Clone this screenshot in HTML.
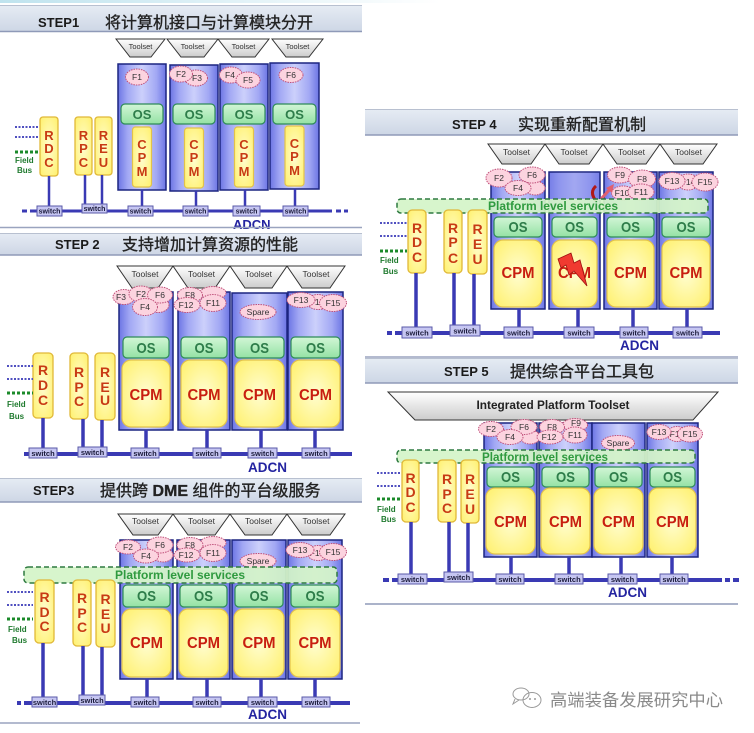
<!DOCTYPE html>
<html><head><meta charset="utf-8"><style>
html,body{margin:0;padding:0;background:#fff;}
svg{display:block;}
text{font-family:"Liberation Sans","Noto Sans CJK SC",sans-serif;}
.st{font-weight:bold;font-size:13px;fill:#1a1a1a;}
.cn{font-size:16px;fill:#222;stroke:#222;stroke-width:0.35;}
.tl{font-size:8.5px;fill:#333;text-anchor:middle;}
.tl1{font-size:7.5px;fill:#333;text-anchor:middle;}
.bt{font-size:8.5px;fill:#333;text-anchor:middle;}
.os{font-weight:bold;font-size:15px;fill:#2e7d4a;text-anchor:middle;}
.os1{font-weight:bold;font-size:13px;fill:#2e7d4a;text-anchor:middle;}
.cpm{font-weight:bold;font-size:16px;fill:#c81e10;text-anchor:middle;}
.lt{font-weight:bold;font-size:14px;fill:#c83a14;text-anchor:middle;}
.lt1{font-weight:bold;font-size:13px;fill:#c83a14;text-anchor:middle;}
.sw{font-size:7.5px;fill:#1a1a3a;text-anchor:middle;font-weight:bold;}
.ad{font-weight:bold;font-size:13.5px;fill:#2424a0;}
.fd{font-weight:bold;font-size:8px;fill:#1f7a2e;}
.pl{font-weight:bold;font-size:12px;fill:#2f9a3f;}
.col{fill:url(#colg);stroke:#1c2580;stroke-width:1.5;}
.osb{fill:url(#osg);stroke:#2e8b57;stroke-width:1.2;}
.cpb{fill:url(#cpg);stroke:#e2c24a;stroke-width:1.2;}
.rb{fill:url(#cpg);stroke:#e0b838;stroke-width:1.3;}
.tb{fill:url(#tg);stroke:#333;stroke-width:1;}
.bb{fill:#fcd3df;stroke:#c0507a;stroke-width:1;stroke-dasharray:1.5 1;}
.swb{fill:#c6c6f2;stroke:#5a5aa8;stroke-width:1;}
.vl{stroke:#3a3ab4;stroke-width:3.5;}
.vl1{stroke:#3a3ab4;stroke-width:2.5;}
.bus{stroke:#3a3ab4;stroke-width:4;}
.dot{stroke:#5050c0;stroke-width:2;stroke-dasharray:2 1.5;}
.gd{stroke:#1b8a2a;stroke-width:3;stroke-dasharray:3 2;}
.plb{fill:#d4f4c8;fill-opacity:0.92;stroke:#2e7a40;stroke-width:1.5;stroke-dasharray:5 3;}
.hdr{fill:url(#hg);}
.hl{stroke:#8f9ab8;stroke-width:1.5;}
.ht{stroke:#b8c0d0;stroke-width:1;}
</style></head><body>
<svg width="754" height="733" viewBox="0 0 754 733" xmlns="http://www.w3.org/2000/svg">
<defs>
<linearGradient id="hg" x1="0" y1="0" x2="0" y2="1"><stop offset="0" stop-color="#e6ecf4"/><stop offset="1" stop-color="#cdd6e5"/></linearGradient>
<linearGradient id="colg" x1="0" y1="0" x2="1" y2="0"><stop offset="0" stop-color="#6c75e4"/><stop offset="0.2" stop-color="#a2a8f4"/><stop offset="0.5" stop-color="#ccd0fb"/><stop offset="0.8" stop-color="#a2a8f4"/><stop offset="1" stop-color="#6c75e4"/></linearGradient>
<linearGradient id="osg" x1="0" y1="0" x2="0" y2="1"><stop offset="0" stop-color="#d2f6d6"/><stop offset="1" stop-color="#94e2a4"/></linearGradient>
<radialGradient id="cpg" cx="0.5" cy="0.5" r="0.7"><stop offset="0" stop-color="#fffdd0"/><stop offset="1" stop-color="#fff06a"/></radialGradient>
<linearGradient id="tg" x1="0" y1="0" x2="0" y2="1"><stop offset="0" stop-color="#ffffff"/><stop offset="1" stop-color="#cccccc"/></linearGradient>
<linearGradient id="topg" x1="0" y1="0" x2="1" y2="0"><stop offset="0" stop-color="#bfe3ee"/><stop offset="1" stop-color="#ffffff"/></linearGradient>
</defs>

<rect x="0" y="0" width="440" height="3" fill="url(#topg)"/>

<!-- ================= STEP 1 ================= -->
<rect class="hdr" x="0" y="5" width="362" height="27"/>
<line class="ht" x1="0" y1="5.5" x2="362" y2="5.5"/>
<line class="hl" x1="0" y1="31.5" x2="362" y2="31.5"/>
<text class="st" x="38" y="27">STEP1</text>
<text class="cn" x="105" y="28">将计算机接口与计算模块分开</text>

<polygon class="tb" points="116,39 165,39 151,57 130,57"/><text class="tl1" x="140.5" y="49">Toolset</text>
<polygon class="tb" points="167,39 218,39 204,57 181,57"/><text class="tl1" x="192.5" y="49">Toolset</text>
<polygon class="tb" points="218,39 269,39 255,57 232,57"/><text class="tl1" x="243.5" y="49">Toolset</text>
<polygon class="tb" points="272,39 323,39 309,57 286,57"/><text class="tl1" x="297.5" y="49">Toolset</text>

<rect class="col" x="118" y="64" width="48" height="126"/>
<rect class="col" x="170" y="65" width="48" height="126"/>
<rect class="col" x="220" y="64" width="48" height="126"/>
<rect class="col" x="270" y="63" width="49" height="126"/>

<ellipse class="bb" cx="137" cy="77" rx="11.5" ry="8"/><text class="bt" x="137" y="80">F1</text>
<ellipse class="bb" cx="196" cy="78" rx="11.5" ry="8"/><text class="bt" x="197" y="81">F3</text>
<ellipse class="bb" cx="181" cy="74" rx="11.5" ry="8"/><text class="bt" x="181" y="77">F2</text>
<ellipse class="bb" cx="231" cy="75" rx="11.5" ry="8"/><text class="bt" x="230" y="78">F4</text>
<ellipse class="bb" cx="248" cy="80" rx="12" ry="8"/><text class="bt" x="248" y="83">F5</text>
<ellipse class="bb" cx="291" cy="75" rx="12" ry="7.5"/><text class="bt" x="291" y="78">F6</text>

<rect class="osb" x="121" y="104" width="42" height="20" rx="4"/><text class="os1" x="142" y="119">OS</text>
<rect class="osb" x="173" y="104" width="42" height="20" rx="4"/><text class="os1" x="194" y="119">OS</text>
<rect class="osb" x="223" y="104" width="42" height="20" rx="4"/><text class="os1" x="244" y="119">OS</text>
<rect class="osb" x="273" y="104" width="43" height="20" rx="4"/><text class="os1" x="294.5" y="119">OS</text>

<rect class="cpb" x="132.5" y="127" width="19" height="60" rx="3"/>
<text class="lt1" x="142" y="149">C</text><text class="lt1" x="142" y="162">P</text><text class="lt1" x="142" y="176">M</text>
<rect class="cpb" x="184.5" y="128" width="19" height="60" rx="3"/>
<text class="lt1" x="194" y="149">C</text><text class="lt1" x="194" y="162">P</text><text class="lt1" x="194" y="176">M</text>
<rect class="cpb" x="234.5" y="127" width="19" height="60" rx="3"/>
<text class="lt1" x="244" y="149">C</text><text class="lt1" x="244" y="162">P</text><text class="lt1" x="244" y="176">M</text>
<rect class="cpb" x="285" y="126" width="19" height="60" rx="3"/>
<text class="lt1" x="294.5" y="148">C</text><text class="lt1" x="294.5" y="161">P</text><text class="lt1" x="294.5" y="175">M</text>

<rect class="rb" x="40" y="117" width="18" height="59" rx="3"/>
<text class="lt1" x="49" y="140">R</text><text class="lt1" x="49" y="153">D</text><text class="lt1" x="49" y="167">C</text>
<rect class="rb" x="75" y="117" width="17" height="58" rx="3"/>
<text class="lt1" x="83.5" y="140">R</text><text class="lt1" x="83.5" y="153">P</text><text class="lt1" x="83.5" y="167">C</text>
<rect class="rb" x="95" y="117" width="17" height="58" rx="3"/>
<text class="lt1" x="103.5" y="140">R</text><text class="lt1" x="103.5" y="153">E</text><text class="lt1" x="103.5" y="167">U</text>

<line class="vl1" x1="49" y1="176" x2="49" y2="210"/>
<line class="vl1" x1="85" y1="175" x2="85" y2="209"/>
<line class="vl1" x1="102" y1="175" x2="102" y2="209"/>
<line class="vl1" x1="142" y1="190" x2="142" y2="210"/>
<line class="vl1" x1="196" y1="191" x2="196" y2="210"/>
<line class="vl1" x1="245" y1="190" x2="245" y2="210"/>
<line class="vl1" x1="295" y1="189" x2="295" y2="210"/>
<line class="bus" style="stroke-width:3" x1="30" y1="211" x2="332" y2="211"/>
<line class="bus" style="stroke-width:3" x1="22" y1="211" x2="27" y2="211"/>
<line class="bus" style="stroke-width:3" x1="336" y1="211" x2="341" y2="211"/>
<line class="bus" style="stroke-width:3" x1="344" y1="211" x2="348" y2="211"/>

<rect class="swb" x="37" y="206" width="25" height="10"/><text class="sw" style="font-size:7px" x="49.5" y="213.5">switch</text>
<rect class="swb" x="82" y="204" width="25" height="9"/><text class="sw" style="font-size:7px" x="94.5" y="211">switch</text>
<rect class="swb" x="128" y="206" width="25" height="10"/><text class="sw" style="font-size:7px" x="140.5" y="213.5">switch</text>
<rect class="swb" x="183" y="206" width="25" height="10"/><text class="sw" style="font-size:7px" x="195.5" y="213.5">switch</text>
<rect class="swb" x="233" y="206" width="27" height="10"/><text class="sw" style="font-size:7px" x="246.5" y="213.5">switch</text>
<rect class="swb" x="283" y="206" width="25" height="10"/><text class="sw" style="font-size:7px" x="295.5" y="213.5">switch</text>
<text class="ad" style="font-size:13px" x="233" y="229">ADCN</text>

<line class="dot" x1="15" y1="127" x2="38" y2="127"/>
<line class="dot" x1="15" y1="137" x2="38" y2="137"/>
<line class="gd" x1="15" y1="152" x2="38" y2="152"/>
<text class="fd" x="15" y="163">Field</text>
<text class="fd" x="17" y="173">Bus</text>
<line stroke="#9aa4bf" stroke-width="1.5" x1="0" y1="227.5" x2="362" y2="227.5"/>

<!-- ================= STEP 2 ================= -->
<rect class="hdr" x="0" y="233" width="362" height="22"/>
<line class="ht" x1="0" y1="233.5" x2="362" y2="233.5"/>
<line class="hl" x1="0" y1="255" x2="362" y2="255"/>
<text class="st" x="55" y="249">STEP 2</text>
<text class="cn" x="122" y="250">支持增加计算资源的性能</text>

<polygon class="tb" points="117,266 173,266 158,288 132,288"/><text class="tl" x="145" y="277">Toolset</text>
<polygon class="tb" points="173,266 230,266 215,288 188,288"/><text class="tl" x="201.5" y="277">Toolset</text>
<polygon class="tb" points="230,266 287,266 272,288 245,288"/><text class="tl" x="258.5" y="277">Toolset</text>
<polygon class="tb" points="287,266 345,266 330,288 302,288"/><text class="tl" x="316" y="277">Toolset</text>

<rect class="col" x="119" y="292" width="54" height="138"/>
<rect class="col" x="178" y="292" width="52" height="138"/>
<rect class="col" x="232" y="293" width="55" height="137"/>
<rect class="col" x="288" y="292" width="55" height="138"/>

<ellipse class="bb" cx="124" cy="297" rx="11" ry="7.5"/><text class="bt" x="121" y="300">F3</text>
<ellipse class="bb" cx="158" cy="305" rx="11" ry="7.5"/>
<ellipse class="bb" cx="141" cy="294" rx="12" ry="8"/><text class="bt" x="141" y="297">F2</text>
<ellipse class="bb" cx="160" cy="295" rx="12.5" ry="8"/><text class="bt" x="160" y="298">F6</text>
<ellipse class="bb" cx="145" cy="307" rx="12.5" ry="8.5"/><text class="bt" x="145" y="310">F4</text>
<ellipse class="bb" cx="213" cy="293" rx="13" ry="6.5"/>
<ellipse class="bb" cx="190" cy="295" rx="12.5" ry="7.5"/><text class="bt" x="190" y="298">F8</text>
<ellipse class="bb" cx="187" cy="305" rx="13" ry="7.5"/><text class="bt" x="186" y="308">F12</text>
<ellipse class="bb" cx="213" cy="303" rx="13" ry="8.5"/><text class="bt" x="213" y="306">F11</text>
<ellipse class="bb" cx="258" cy="312" rx="18" ry="7.5"/><text class="bt" x="258" y="315">Spare</text>
<ellipse class="bb" cx="318" cy="302" rx="11" ry="7.5"/><text class="bt" x="317" y="305">F14</text>
<ellipse class="bb" cx="301" cy="300" rx="14" ry="7.5"/><text class="bt" x="301" y="303">F13</text>
<ellipse class="bb" cx="333" cy="303" rx="13.5" ry="8.5"/><text class="bt" x="333" y="306">F15</text>

<rect class="osb" x="123" y="337" width="46" height="21" rx="4"/><text class="os" x="146" y="353" textLength="19" lengthAdjust="spacingAndGlyphs">OS</text>
<rect class="osb" x="181" y="337" width="46" height="21" rx="4"/><text class="os" x="204" y="353" textLength="19" lengthAdjust="spacingAndGlyphs">OS</text>
<rect class="osb" x="235" y="337" width="49" height="21" rx="4"/><text class="os" x="259.5" y="353" textLength="19" lengthAdjust="spacingAndGlyphs">OS</text>
<rect class="osb" x="291" y="337" width="49" height="21" rx="4"/><text class="os" x="315.5" y="353" textLength="19" lengthAdjust="spacingAndGlyphs">OS</text>

<rect class="cpb" x="122" y="360" width="48" height="67" rx="9"/><text class="cpm" x="146" y="400" textLength="33" lengthAdjust="spacingAndGlyphs">CPM</text>
<rect class="cpb" x="181" y="360" width="46" height="67" rx="9"/><text class="cpm" x="204" y="400" textLength="33" lengthAdjust="spacingAndGlyphs">CPM</text>
<rect class="cpb" x="235" y="360" width="49" height="67" rx="9"/><text class="cpm" x="259.5" y="400" textLength="33" lengthAdjust="spacingAndGlyphs">CPM</text>
<rect class="cpb" x="291" y="360" width="49" height="67" rx="9"/><text class="cpm" x="315.5" y="400" textLength="33" lengthAdjust="spacingAndGlyphs">CPM</text>

<rect class="rb" x="33" y="353" width="20" height="65" rx="4"/>
<text class="lt" x="43" y="375">R</text><text class="lt" x="43" y="390">D</text><text class="lt" x="43" y="405">C</text>
<rect class="rb" x="70" y="353" width="18" height="66" rx="4"/>
<text class="lt" x="79" y="377">R</text><text class="lt" x="79" y="392">P</text><text class="lt" x="79" y="406">C</text>
<rect class="rb" x="95" y="353" width="20" height="67" rx="4"/>
<text class="lt" x="105" y="377">R</text><text class="lt" x="105" y="392">E</text><text class="lt" x="105" y="405">U</text>

<line class="vl" x1="43" y1="418" x2="43" y2="452"/>
<line class="vl" x1="83" y1="419" x2="83" y2="450"/>
<line class="vl" x1="102" y1="420" x2="102" y2="450"/>
<line class="vl" x1="146" y1="430" x2="146" y2="452"/>
<line class="vl" x1="207" y1="430" x2="207" y2="452"/>
<line class="vl" x1="261" y1="430" x2="261" y2="452"/>
<line class="vl" x1="315" y1="430" x2="315" y2="452"/>
<line class="bus" x1="24" y1="454" x2="352" y2="454"/>

<rect class="swb" x="29" y="448" width="28" height="10"/><text class="sw" x="43" y="456">switch</text>
<rect class="swb" x="78" y="447" width="29" height="10"/><text class="sw" x="92.5" y="455">switch</text>
<rect class="swb" x="131" y="448" width="28" height="10"/><text class="sw" x="145" y="456">switch</text>
<rect class="swb" x="193" y="448" width="28" height="10"/><text class="sw" x="207" y="456">switch</text>
<rect class="swb" x="248" y="448" width="29" height="10"/><text class="sw" x="262.5" y="456">switch</text>
<rect class="swb" x="302" y="448" width="28" height="10"/><text class="sw" x="316" y="456">switch</text>
<text class="ad" x="248" y="472">ADCN</text>

<line class="dot" x1="7" y1="366" x2="33" y2="366"/>
<line class="dot" x1="7" y1="379" x2="33" y2="379"/>
<line class="gd" x1="7" y1="393" x2="33" y2="393"/>
<text class="fd" x="7" y="407">Field</text>
<text class="fd" x="9" y="419">Bus</text>

<!-- ================= STEP 3 ================= -->
<rect class="hdr" x="0" y="478" width="362" height="24"/>
<line class="ht" x1="0" y1="478.5" x2="362" y2="478.5"/>
<line class="hl" x1="0" y1="502" x2="362" y2="502"/>
<text class="st" x="33" y="495">STEP3</text>
<text class="cn" x="100" y="496">提供跨 <tspan font-weight="bold">DME</tspan> 组件的平台级服务</text>

<polygon class="tb" points="118,514 173,514 158,535 133,535"/><text class="tl" x="145.5" y="524">Toolset</text>
<polygon class="tb" points="173,514 230,514 215,535 188,535"/><text class="tl" x="201.5" y="524">Toolset</text>
<polygon class="tb" points="230,514 287,514 272,535 245,535"/><text class="tl" x="258.5" y="524">Toolset</text>
<polygon class="tb" points="287,514 345,514 330,535 302,535"/><text class="tl" x="316" y="524">Toolset</text>

<rect class="col" x="120" y="540" width="53" height="139"/>
<rect class="col" x="177" y="540" width="53" height="139"/>
<rect class="col" x="232" y="540" width="54" height="139"/>
<rect class="col" x="288" y="540" width="54" height="139"/>

<ellipse class="bb" cx="163" cy="555" rx="10" ry="7"/>
<ellipse class="bb" cx="128" cy="547" rx="12.5" ry="7"/><text class="bt" x="128" y="550">F2</text>
<ellipse class="bb" cx="160" cy="545" rx="13" ry="8"/><text class="bt" x="160" y="548">F6</text>
<ellipse class="bb" cx="146" cy="556" rx="12.5" ry="7"/><text class="bt" x="146" y="559">F4</text>
<ellipse class="bb" cx="213" cy="543" rx="13" ry="6.5"/>
<ellipse class="bb" cx="190" cy="545" rx="13" ry="7.5"/><text class="bt" x="190" y="548">F8</text>
<ellipse class="bb" cx="187" cy="555" rx="13" ry="7"/><text class="bt" x="186" y="558">F12</text>
<ellipse class="bb" cx="213" cy="553" rx="13" ry="8.5"/><text class="bt" x="213" y="556">F11</text>
<ellipse class="bb" cx="258" cy="561" rx="18" ry="7.5"/><text class="bt" x="258" y="564">Spare</text>
<ellipse class="bb" cx="318" cy="553" rx="11" ry="7.5"/><text class="bt" x="317" y="556">F14</text>
<ellipse class="bb" cx="300" cy="550" rx="14" ry="7.5"/><text class="bt" x="300" y="553">F13</text>
<ellipse class="bb" cx="333" cy="552" rx="13.5" ry="8.5"/><text class="bt" x="333" y="555">F15</text>

<rect class="plb" x="24" y="567" width="313" height="16" rx="4"/>
<text class="pl" x="115" y="579" textLength="130" lengthAdjust="spacingAndGlyphs">Platform level services</text>

<rect class="osb" x="123" y="585" width="47" height="22" rx="4"/><text class="os" x="146.5" y="601" textLength="19" lengthAdjust="spacingAndGlyphs">OS</text>
<rect class="osb" x="180" y="585" width="47" height="22" rx="4"/><text class="os" x="203.5" y="601" textLength="19" lengthAdjust="spacingAndGlyphs">OS</text>
<rect class="osb" x="235" y="585" width="48" height="22" rx="4"/><text class="os" x="259" y="601" textLength="19" lengthAdjust="spacingAndGlyphs">OS</text>
<rect class="osb" x="291" y="585" width="48" height="22" rx="4"/><text class="os" x="315" y="601" textLength="19" lengthAdjust="spacingAndGlyphs">OS</text>

<rect class="cpb" x="122" y="609" width="49" height="68" rx="9"/><text class="cpm" x="146.5" y="648" textLength="33" lengthAdjust="spacingAndGlyphs">CPM</text>
<rect class="cpb" x="179" y="609" width="49" height="68" rx="9"/><text class="cpm" x="203.5" y="648" textLength="33" lengthAdjust="spacingAndGlyphs">CPM</text>
<rect class="cpb" x="234" y="609" width="50" height="68" rx="9"/><text class="cpm" x="259" y="648" textLength="33" lengthAdjust="spacingAndGlyphs">CPM</text>
<rect class="cpb" x="290" y="609" width="50" height="68" rx="9"/><text class="cpm" x="315" y="648" textLength="33" lengthAdjust="spacingAndGlyphs">CPM</text>

<rect class="rb" x="35" y="580" width="19" height="63" rx="4"/>
<text class="lt" x="44.5" y="602">R</text><text class="lt" x="44.5" y="617">D</text><text class="lt" x="44.5" y="631">C</text>
<rect class="rb" x="73" y="580" width="18" height="66" rx="4"/>
<text class="lt" x="82" y="603">R</text><text class="lt" x="82" y="618">P</text><text class="lt" x="82" y="632">C</text>
<rect class="rb" x="96" y="580" width="19" height="67" rx="4"/>
<text class="lt" x="105.5" y="604">R</text><text class="lt" x="105.5" y="619">E</text><text class="lt" x="105.5" y="633">U</text>

<line class="vl" x1="43" y1="643" x2="43" y2="700"/>
<line class="vl" x1="83" y1="646" x2="83" y2="698"/>
<line class="vl" x1="102" y1="647" x2="102" y2="698"/>
<line class="vl" x1="147" y1="679" x2="147" y2="700"/>
<line class="vl" x1="207" y1="679" x2="207" y2="700"/>
<line class="vl" x1="261" y1="679" x2="261" y2="700"/>
<line class="vl" x1="315" y1="679" x2="315" y2="700"/>
<line class="bus" x1="24" y1="703" x2="350" y2="703"/>
<line class="bus" x1="17" y1="703" x2="21" y2="703"/>

<rect class="swb" x="32" y="697" width="25" height="10"/><text class="sw" x="44.5" y="705">switch</text>
<rect class="swb" x="79" y="695" width="26" height="10"/><text class="sw" x="92" y="703">switch</text>
<rect class="swb" x="131" y="697" width="28" height="10"/><text class="sw" x="145" y="705">switch</text>
<rect class="swb" x="193" y="697" width="28" height="10"/><text class="sw" x="207" y="705">switch</text>
<rect class="swb" x="248" y="697" width="29" height="10"/><text class="sw" x="262.5" y="705">switch</text>
<rect class="swb" x="302" y="697" width="28" height="10"/><text class="sw" x="316" y="705">switch</text>
<text class="ad" x="248" y="719">ADCN</text>

<line class="dot" x1="7" y1="592" x2="33" y2="592"/>
<line class="dot" x1="7" y1="605" x2="33" y2="605"/>
<line class="gd" x1="7" y1="619" x2="33" y2="619"/>
<text class="fd" x="8" y="632">Field</text>
<text class="fd" x="12" y="643">Bus</text>
<line stroke="#9aa4bf" stroke-width="1.5" x1="0" y1="723" x2="360" y2="723"/>

<!-- ================= STEP 4 ================= -->
<rect class="hdr" x="365" y="109" width="373" height="26"/>
<line class="ht" x1="365" y1="109.5" x2="738" y2="109.5"/>
<line class="hl" x1="365" y1="135" x2="738" y2="135"/>
<text class="st" x="452" y="129">STEP 4</text>
<text class="cn" x="518" y="130">实现重新配置机制</text>

<polygon class="tb" points="488,144 545,144 531,164 502,164"/><text class="tl" x="516.5" y="155">Toolset</text>
<polygon class="tb" points="545,144 603,144 589,164 559,164"/><text class="tl" x="574" y="155">Toolset</text>
<polygon class="tb" points="603,144 660,144 646,164 617,164"/><text class="tl" x="631.5" y="155">Toolset</text>
<polygon class="tb" points="660,144 717,144 703,164 674,164"/><text class="tl" x="688.5" y="155">Toolset</text>

<rect class="col" x="491" y="172" width="54" height="137"/>
<rect class="col" x="549" y="172" width="51" height="137"/>
<rect x="550" y="173" width="49" height="26" fill="#7f87ea" opacity="0.55"/>
<rect class="col" x="604" y="172" width="53" height="137"/>
<rect class="col" x="659" y="172" width="54" height="137"/>

<ellipse class="bb" cx="535" cy="188" rx="10" ry="7"/>
<ellipse class="bb" cx="499" cy="178" rx="13" ry="9"/><text class="bt" x="499" y="181">F2</text>
<ellipse class="bb" cx="532" cy="175" rx="13" ry="8"/><text class="bt" x="532" y="178">F6</text>
<ellipse class="bb" cx="518" cy="188" rx="13" ry="7.5"/><text class="bt" x="518" y="191">F4</text>
<ellipse class="bb" cx="620" cy="175" rx="12.5" ry="8"/><text class="bt" x="620" y="178">F9</text>
<ellipse class="bb" cx="623" cy="193" rx="11.5" ry="7"/><text class="bt" x="622" y="196">F10</text>
<ellipse class="bb" cx="642" cy="179" rx="13.5" ry="9"/><text class="bt" x="642" y="182">F8</text>
<ellipse class="bb" cx="641" cy="192" rx="13" ry="8"/><text class="bt" x="641" y="195">F11</text>
<ellipse class="bb" cx="688" cy="182" rx="11" ry="8"/><text class="bt" x="688" y="185">F14</text>
<ellipse class="bb" cx="672" cy="181" rx="13" ry="8.5"/><text class="bt" x="672" y="184">F13</text>
<ellipse class="bb" cx="705" cy="182" rx="13" ry="9"/><text class="bt" x="705" y="185">F15</text>

<!-- reconfiguration arrow -->
<path d="M596,201 Q589,192 596,186" fill="none" stroke="#b01818" stroke-width="3"/>
<path d="M601,199 L611,188" stroke="#e06070" stroke-width="3" fill="none"/>
<polygon points="614,184 612,193 606,188" fill="#e06070"/>

<rect class="plb" x="397" y="199" width="311" height="14" rx="4"/>
<text class="pl" x="488" y="210" textLength="130" lengthAdjust="spacingAndGlyphs">Platform level services</text>

<rect class="osb" x="494" y="217" width="48" height="20" rx="4"/><text class="os" x="518" y="232" textLength="19" lengthAdjust="spacingAndGlyphs">OS</text>
<rect class="osb" x="552" y="217" width="45" height="20" rx="4"/><text class="os" x="574.5" y="232" textLength="19" lengthAdjust="spacingAndGlyphs">OS</text>
<rect class="osb" x="607" y="217" width="47" height="20" rx="4"/><text class="os" x="630.5" y="232" textLength="19" lengthAdjust="spacingAndGlyphs">OS</text>
<rect class="osb" x="662" y="217" width="48" height="20" rx="4"/><text class="os" x="686" y="232" textLength="19" lengthAdjust="spacingAndGlyphs">OS</text>

<rect class="cpb" x="494" y="240" width="48" height="67" rx="9"/><text class="cpm" x="518" y="278" textLength="33" lengthAdjust="spacingAndGlyphs">CPM</text>
<rect class="cpb" x="552" y="240" width="45" height="67" rx="9"/><text class="cpm" x="574.5" y="278" textLength="33" lengthAdjust="spacingAndGlyphs">CPM</text>
<rect class="cpb" x="607" y="240" width="47" height="67" rx="9"/><text class="cpm" x="630.5" y="278" textLength="33" lengthAdjust="spacingAndGlyphs">CPM</text>
<rect class="cpb" x="662" y="240" width="48" height="67" rx="9"/><text class="cpm" x="686" y="278" textLength="33" lengthAdjust="spacingAndGlyphs">CPM</text>
<!-- lightning -->
<polygon points="558,259 571,253 574,263 580,260 587,286 574,271 569,275 566,265 561,268" fill="#f03a30" stroke="#a01010" stroke-width="0.8"/>

<rect class="rb" x="408" y="210" width="18" height="63" rx="4"/>
<text class="lt" x="417" y="233">R</text><text class="lt" x="417" y="247">D</text><text class="lt" x="417" y="262">C</text>
<rect class="rb" x="444" y="210" width="18" height="63" rx="4"/>
<text class="lt" x="453" y="233">R</text><text class="lt" x="453" y="247">P</text><text class="lt" x="453" y="263">C</text>
<rect class="rb" x="468" y="210" width="19" height="64" rx="4"/>
<text class="lt" x="477.5" y="234">R</text><text class="lt" x="477.5" y="249">E</text><text class="lt" x="477.5" y="264">U</text>

<line class="vl" x1="416" y1="273" x2="416" y2="330"/>
<line class="vl" x1="454" y1="273" x2="454" y2="330"/>
<line class="vl" x1="474" y1="274" x2="474" y2="330"/>
<line class="vl" x1="519" y1="309" x2="519" y2="330"/>
<line class="vl" x1="578" y1="309" x2="578" y2="330"/>
<line class="vl" x1="633" y1="309" x2="633" y2="330"/>
<line class="vl" x1="687" y1="309" x2="687" y2="330"/>
<line class="bus" x1="395" y1="333" x2="720" y2="333"/>
<line class="bus" x1="387" y1="333" x2="392" y2="333"/>

<rect class="swb" x="402" y="327" width="30" height="11"/><text class="sw" x="417" y="335.5">switch</text>
<rect class="swb" x="450" y="325" width="30" height="11"/><text class="sw" x="465" y="333.5">switch</text>
<rect class="swb" x="504" y="327" width="29" height="11"/><text class="sw" x="518.5" y="335.5">switch</text>
<rect class="swb" x="564" y="327" width="30" height="11"/><text class="sw" x="579" y="335.5">switch</text>
<rect class="swb" x="620" y="327" width="28" height="11"/><text class="sw" x="634" y="335.5">switch</text>
<rect class="swb" x="673" y="327" width="29" height="11"/><text class="sw" x="687.5" y="335.5">switch</text>
<text class="ad" x="620" y="350">ADCN</text>

<line class="dot" x1="380" y1="223" x2="407" y2="223"/>
<line class="dot" x1="380" y1="236" x2="407" y2="236"/>
<line class="gd" x1="380" y1="251" x2="407" y2="251"/>
<text class="fd" x="380" y="263">Field</text>
<text class="fd" x="383" y="274">Bus</text>
<line stroke="#9aa4bf" stroke-width="1.5" x1="365" y1="357" x2="738" y2="357"/>

<!-- ================= STEP 5 ================= -->
<rect class="hdr" x="365" y="358" width="373" height="25"/>
<line class="ht" x1="365" y1="358.5" x2="738" y2="358.5"/>
<line class="hl" x1="365" y1="383" x2="738" y2="383"/>
<text class="st" x="444" y="376">STEP 5</text>
<text class="cn" x="510" y="377">提供综合平台工具包</text>

<polygon class="tb" points="388,392 718,392 693,420 415,420"/>
<text x="553" y="409" text-anchor="middle" font-weight="bold" font-size="12" fill="#222" textLength="153" lengthAdjust="spacingAndGlyphs">Integrated Platform Toolset</text>

<rect class="col" x="484" y="423" width="53" height="134"/>
<rect class="col" x="539" y="423" width="53" height="134"/>
<rect class="col" x="592" y="423" width="53" height="134"/>
<rect class="col" x="647" y="423" width="51" height="134"/>

<ellipse class="bb" cx="530" cy="437" rx="10" ry="7"/>
<ellipse class="bb" cx="491" cy="429" rx="12.5" ry="7.5"/><text class="bt" x="491" y="432">F2</text>
<ellipse class="bb" cx="524" cy="427" rx="13" ry="7.5"/><text class="bt" x="524" y="430">F6</text>
<ellipse class="bb" cx="510" cy="437" rx="13" ry="7.5"/><text class="bt" x="510" y="440">F4</text>
<ellipse class="bb" cx="575" cy="425" rx="12.5" ry="6.5"/><text class="bt" x="576" y="426">F9</text>
<ellipse class="bb" cx="552" cy="427" rx="12.5" ry="7.5"/><text class="bt" x="552" y="430">F8</text>
<ellipse class="bb" cx="550" cy="437" rx="13" ry="7"/><text class="bt" x="549" y="440">F12</text>
<ellipse class="bb" cx="575" cy="435" rx="12" ry="8"/><text class="bt" x="575" y="438">F11</text>
<ellipse class="bb" cx="618" cy="443" rx="16.5" ry="7.5"/><text class="bt" x="618" y="446">Spare</text>
<ellipse class="bb" cx="677" cy="434" rx="10" ry="7.5"/><text class="bt" x="677" y="437">F14</text>
<ellipse class="bb" cx="659" cy="432" rx="12" ry="7.5"/><text class="bt" x="659" y="435">F13</text>
<ellipse class="bb" cx="690" cy="434" rx="12.5" ry="8"/><text class="bt" x="690" y="437">F15</text>

<rect class="plb" x="397" y="450" width="298" height="13" rx="4"/>
<text class="pl" x="482" y="461" textLength="126" lengthAdjust="spacingAndGlyphs">Platform level services</text>

<rect class="osb" x="487" y="467" width="47" height="20" rx="4"/><text class="os" x="510.5" y="482" textLength="19" lengthAdjust="spacingAndGlyphs">OS</text>
<rect class="osb" x="542" y="467" width="47" height="20" rx="4"/><text class="os" x="565.5" y="482" textLength="19" lengthAdjust="spacingAndGlyphs">OS</text>
<rect class="osb" x="595" y="467" width="47" height="20" rx="4"/><text class="os" x="618.5" y="482" textLength="19" lengthAdjust="spacingAndGlyphs">OS</text>
<rect class="osb" x="650" y="467" width="45" height="20" rx="4"/><text class="os" x="672.5" y="482" textLength="19" lengthAdjust="spacingAndGlyphs">OS</text>

<rect class="cpb" x="486" y="488" width="49" height="66" rx="9"/><text class="cpm" x="510.5" y="527" textLength="33" lengthAdjust="spacingAndGlyphs">CPM</text>
<rect class="cpb" x="541" y="488" width="49" height="66" rx="9"/><text class="cpm" x="565.5" y="527" textLength="33" lengthAdjust="spacingAndGlyphs">CPM</text>
<rect class="cpb" x="594" y="488" width="49" height="66" rx="9"/><text class="cpm" x="618.5" y="527" textLength="33" lengthAdjust="spacingAndGlyphs">CPM</text>
<rect class="cpb" x="649" y="488" width="47" height="66" rx="9"/><text class="cpm" x="672.5" y="527" textLength="33" lengthAdjust="spacingAndGlyphs">CPM</text>

<rect class="rb" x="402" y="460" width="17" height="62" rx="4"/>
<text class="lt" x="410.5" y="483">R</text><text class="lt" x="410.5" y="497">D</text><text class="lt" x="410.5" y="512">C</text>
<rect class="rb" x="438" y="460" width="18" height="62" rx="4"/>
<text class="lt" x="447" y="484">R</text><text class="lt" x="447" y="499">P</text><text class="lt" x="447" y="513">C</text>
<rect class="rb" x="461" y="460" width="18" height="63" rx="4"/>
<text class="lt" x="470" y="484">R</text><text class="lt" x="470" y="499">E</text><text class="lt" x="470" y="514">U</text>

<line class="vl" x1="411" y1="522" x2="411" y2="578"/>
<line class="vl" x1="449" y1="522" x2="449" y2="578"/>
<line class="vl" x1="468" y1="523" x2="468" y2="578"/>
<line class="vl" x1="511" y1="557" x2="511" y2="578"/>
<line class="vl" x1="569" y1="557" x2="569" y2="578"/>
<line class="vl" x1="621" y1="557" x2="621" y2="578"/>
<line class="vl" x1="672" y1="557" x2="672" y2="578"/>
<line class="bus" x1="392" y1="580" x2="722" y2="580"/>
<line class="bus" x1="383" y1="580" x2="389" y2="580"/>
<line class="bus" x1="725" y1="580" x2="730" y2="580"/>
<line class="bus" x1="733" y1="580" x2="739" y2="580"/>

<rect class="swb" x="398" y="574" width="29" height="10"/><text class="sw" x="412.5" y="582">switch</text>
<rect class="swb" x="444" y="572" width="29" height="10"/><text class="sw" x="458.5" y="580">switch</text>
<rect class="swb" x="496" y="574" width="28" height="10"/><text class="sw" x="510" y="582">switch</text>
<rect class="swb" x="555" y="574" width="28" height="10"/><text class="sw" x="569" y="582">switch</text>
<rect class="swb" x="608" y="574" width="29" height="10"/><text class="sw" x="622.5" y="582">switch</text>
<rect class="swb" x="660" y="574" width="28" height="10"/><text class="sw" x="674" y="582">switch</text>
<text class="ad" x="608" y="597">ADCN</text>

<line class="dot" x1="377" y1="473" x2="400" y2="473"/>
<line class="dot" x1="377" y1="486" x2="400" y2="486"/>
<line class="gd" x1="377" y1="499" x2="400" y2="499"/>
<text class="fd" x="377" y="512">Field</text>
<text class="fd" x="381" y="522">Bus</text>
<line stroke="#8f9ab8" stroke-width="1.5" x1="365" y1="604" x2="738" y2="604"/>

<!-- watermark -->
<g fill="none" stroke="#9a9a9a" stroke-width="1">
<ellipse cx="521" cy="694" rx="8" ry="6"/>
<ellipse cx="532" cy="700" rx="9" ry="7.5"/>
<path d="M515,699 L513,704 L519,700"/>
</g>
<circle cx="530" cy="699" r="1" fill="#9a9a9a"/><circle cx="535" cy="699" r="1" fill="#9a9a9a"/>
<text x="550" y="706" font-size="17" fill="#8a8a8a" textLength="173" lengthAdjust="spacingAndGlyphs">高端装备发展研究中心</text>
</svg>
</body></html>
